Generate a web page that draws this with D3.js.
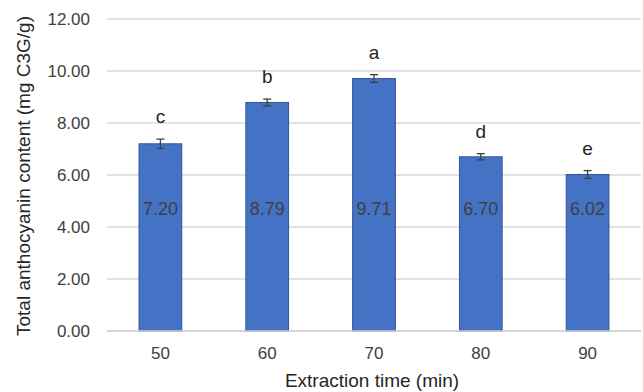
<!DOCTYPE html>
<html><head><meta charset="utf-8">
<script src="https://cdn.jsdelivr.net/npm/d3@7"></script>
<style>body{margin:0;background:#fff}svg{display:block}text{font-family:"Liberation Sans",Arial,sans-serif}</style>
</head><body>
<svg id="c" width="643" height="392"></svg>
<script>
const categories = ["50","60","70","80","90"];
const values = [7.20, 8.79, 9.71, 6.70, 6.02];
const errors = [0.18, 0.13, 0.15, 0.12, 0.15];
const letters = ["c","b","a","d","e"];
const yTicks = [0,2,4,6,8,10,12];

(function(){
const svg = d3.select("#c");
const pl = 107, pr = 641, pt = 19, pb = 331;
const x = d3.scaleBand().domain(categories).range([pl, pr]).paddingInner(0.6).paddingOuter(0.3);
const y = d3.scaleLinear().domain([0,12]).range([pb, pt]);

// gridlines
svg.append("g").selectAll("line").data(yTicks).join("line")
  .attr("x1", pl).attr("x2", pr)
  .attr("y1", d => y(d)).attr("y2", d => y(d))
  .attr("stroke", "#d9d9d9").attr("stroke-width", 1.3);

// y tick labels
svg.append("g").selectAll("text").data(yTicks).join("text")
  .attr("x", 90).attr("y", d => y(d)).attr("dy", "0.36em")
  .attr("text-anchor", "end").attr("font-size", 17).attr("fill", "#404040")
  .text(d => d3.format(".2f")(d));

// bars
svg.append("g").selectAll("rect").data(values).join("rect")
  .attr("x", (d,i) => x(categories[i])).attr("width", x.bandwidth())
  .attr("y", d => y(d)).attr("height", d => y(0) - y(d))
  .attr("fill", "#4472C4").attr("stroke", "#2F5597").attr("stroke-width", 1);

// axis line
svg.append("line").attr("x1", pl).attr("x2", pr).attr("y1", y(0)).attr("y2", y(0))
  .attr("stroke", "#d0d0d0").attr("stroke-width", 1.3);

// error bars
const eg = svg.append("g").attr("stroke", "#404040").attr("stroke-width", 1.3);
values.forEach((v,i) => {
  const cx = x(categories[i]) + x.bandwidth()/2;
  eg.append("line").attr("x1", cx).attr("x2", cx).attr("y1", y(v+errors[i])).attr("y2", y(v-errors[i]));
  eg.append("line").attr("x1", cx-4).attr("x2", cx+4).attr("y1", y(v+errors[i])).attr("y2", y(v+errors[i]));
  eg.append("line").attr("x1", cx-4).attr("x2", cx+4).attr("y1", y(v-errors[i])).attr("y2", y(v-errors[i]));
});

// data labels (placed at a common height inside the bars)
svg.append("g").selectAll("text").data(values).join("text")
  .attr("x", (d,i) => x(categories[i]) + x.bandwidth()/2)
  .attr("y", y(4.72)).attr("dy", "0.36em")
  .attr("text-anchor", "middle").attr("font-size", 18).attr("fill", "#404040")
  .text(d => d3.format(".2f")(d));

// letters
svg.append("g").selectAll("text").data(letters).join("text")
  .attr("x", (d,i) => x(categories[i]) + x.bandwidth()/2)
  .attr("y", (d,i) => y(values[i] + errors[i]) - 16)
  .attr("text-anchor", "middle").attr("font-size", 19).attr("fill", "#262626")
  .text(d => d);

// x tick labels
svg.append("g").selectAll("text").data(categories).join("text")
  .attr("x", d => x(d) + x.bandwidth()/2).attr("y", 353).attr("dy", "0.36em")
  .attr("text-anchor", "middle").attr("font-size", 17).attr("fill", "#404040")
  .text(d => d);

// axis titles
svg.append("text").attr("x", 372).attr("y", 380).attr("dy", "0.36em")
  .attr("text-anchor", "middle").attr("font-size", 19).attr("fill", "#262626")
  .text("Extraction time (min)");
svg.append("text").attr("transform", "translate(23,176) rotate(-90)").attr("dy", "0.36em")
  .attr("text-anchor", "middle").attr("font-size", 19).attr("fill", "#262626")
  .text("Total anthocyanin content (mg C3G/g)");
})();
</script>
</body></html>
